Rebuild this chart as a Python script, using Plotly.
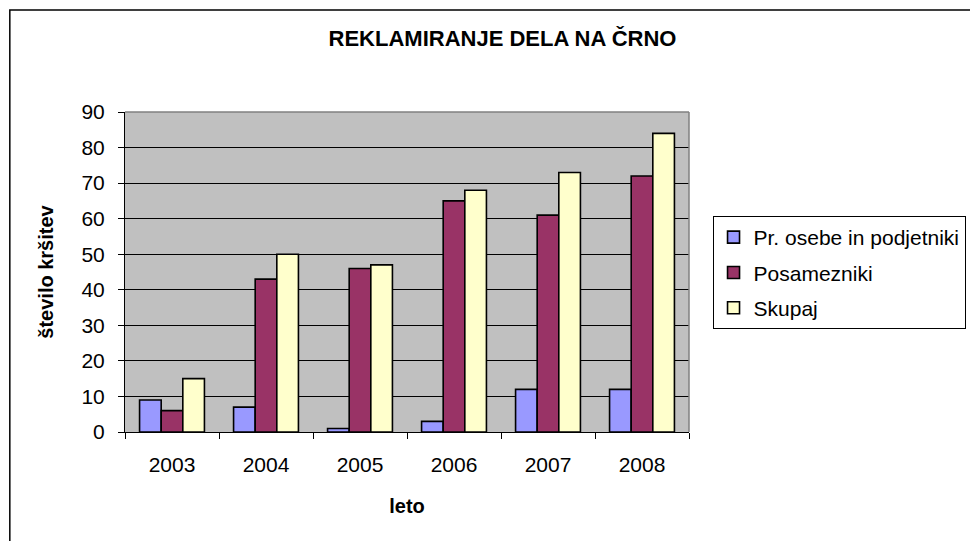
import plotly.graph_objects as go

years = ["2003", "2004", "2005", "2006", "2007", "2008"]
pravne_osebe = [9, 7, 1, 3, 12, 12]
posamezniki = [6, 43, 46, 65, 61, 72]
skupaj = [15, 50, 47, 68, 73, 84]
series_names = ["Pr. osebe in podjetniki", "Posamezniki", "Skupaj"]
colors = ["#9999FF", "#993366", "#FFFFCC"]

# page body has an 8px margin, so figure coordinates = screen - 8
W, H = 970, 533
L, R, T, B = 117, 685, 104, 424
pw, ph = R - L, B - T

def px(x):
    return (x - L) / pw

def py(y):
    return (B - y) / ph

fig = go.Figure()
for i, (name, vals) in enumerate(zip(series_names, [pravne_osebe, posamezniki, skupaj])):
    fig.add_trace(go.Bar(
        x=years, y=vals, name=name, legendgroup=f"g{i}",
        marker=dict(color=colors[i], line=dict(color="black", width=1.6)),
    ))

font = "Liberation Sans, Arial, sans-serif"
fig.update_layout(
    width=W, height=H,
    margin=dict(l=L, r=W - R, t=T, b=H - B),
    paper_bgcolor="white", plot_bgcolor="#C0C0C0",
    font=dict(family=font, size=21, color="black"),
    barmode="group", bargap=0.31, bargroupgap=0,
    showlegend=True,
    title=dict(text="<b>REKLAMIRANJE DELA NA ČRNO</b>", x=494.5 / W, xanchor="center",
               xref="container", yref="container",
               y=1 - 30.5 / H, yanchor="middle", font=dict(size=22, family=font)),
    legend=dict(x=px(708.7), y=py(208), xanchor="left", yanchor="top",
                bordercolor="black", borderwidth=1, bgcolor="white",
                font=dict(size=21, family=font), tracegroupgap=5,
                traceorder="grouped"),
    xaxis=dict(
        showgrid=False, showline=True, linecolor="black", linewidth=1,
        ticks="outside", tickson="boundaries", ticklen=6, tickcolor="black",
        tickfont=dict(size=21), ticklabelstandoff=14,
        title=dict(text="<b>leto</b>", font=dict(size=20), standoff=23),
    ),
    yaxis=dict(
        range=[0, 90], dtick=10, showgrid=True, gridcolor="black", gridwidth=1,
        showline=True, linecolor="black", linewidth=1, zeroline=False,
        ticks="outside", ticklen=6, tickcolor="black",
        tickfont=dict(size=21), ticklabelstandoff=9,
        title=dict(text="<b>število kršitev</b>", font=dict(size=20), standoff=22),
    ),
    shapes=[
        dict(type="line", xref="paper", yref="paper", x0=0, x1=1, y0=1, y1=1,
             line=dict(color="#808080", width=1.5), layer="above"),
        dict(type="line", xref="paper", yref="paper", x0=1, x1=1, y0=0, y1=1,
             line=dict(color="#808080", width=1.5), layer="above"),
        dict(type="rect", xref="paper", yref="paper",
             x0=px(1), x1=px(1000), y0=py(2), y1=py(560),
             line=dict(color="black", width=1.5), layer="below"),
    ],
)

fig.write_html("out.html")
